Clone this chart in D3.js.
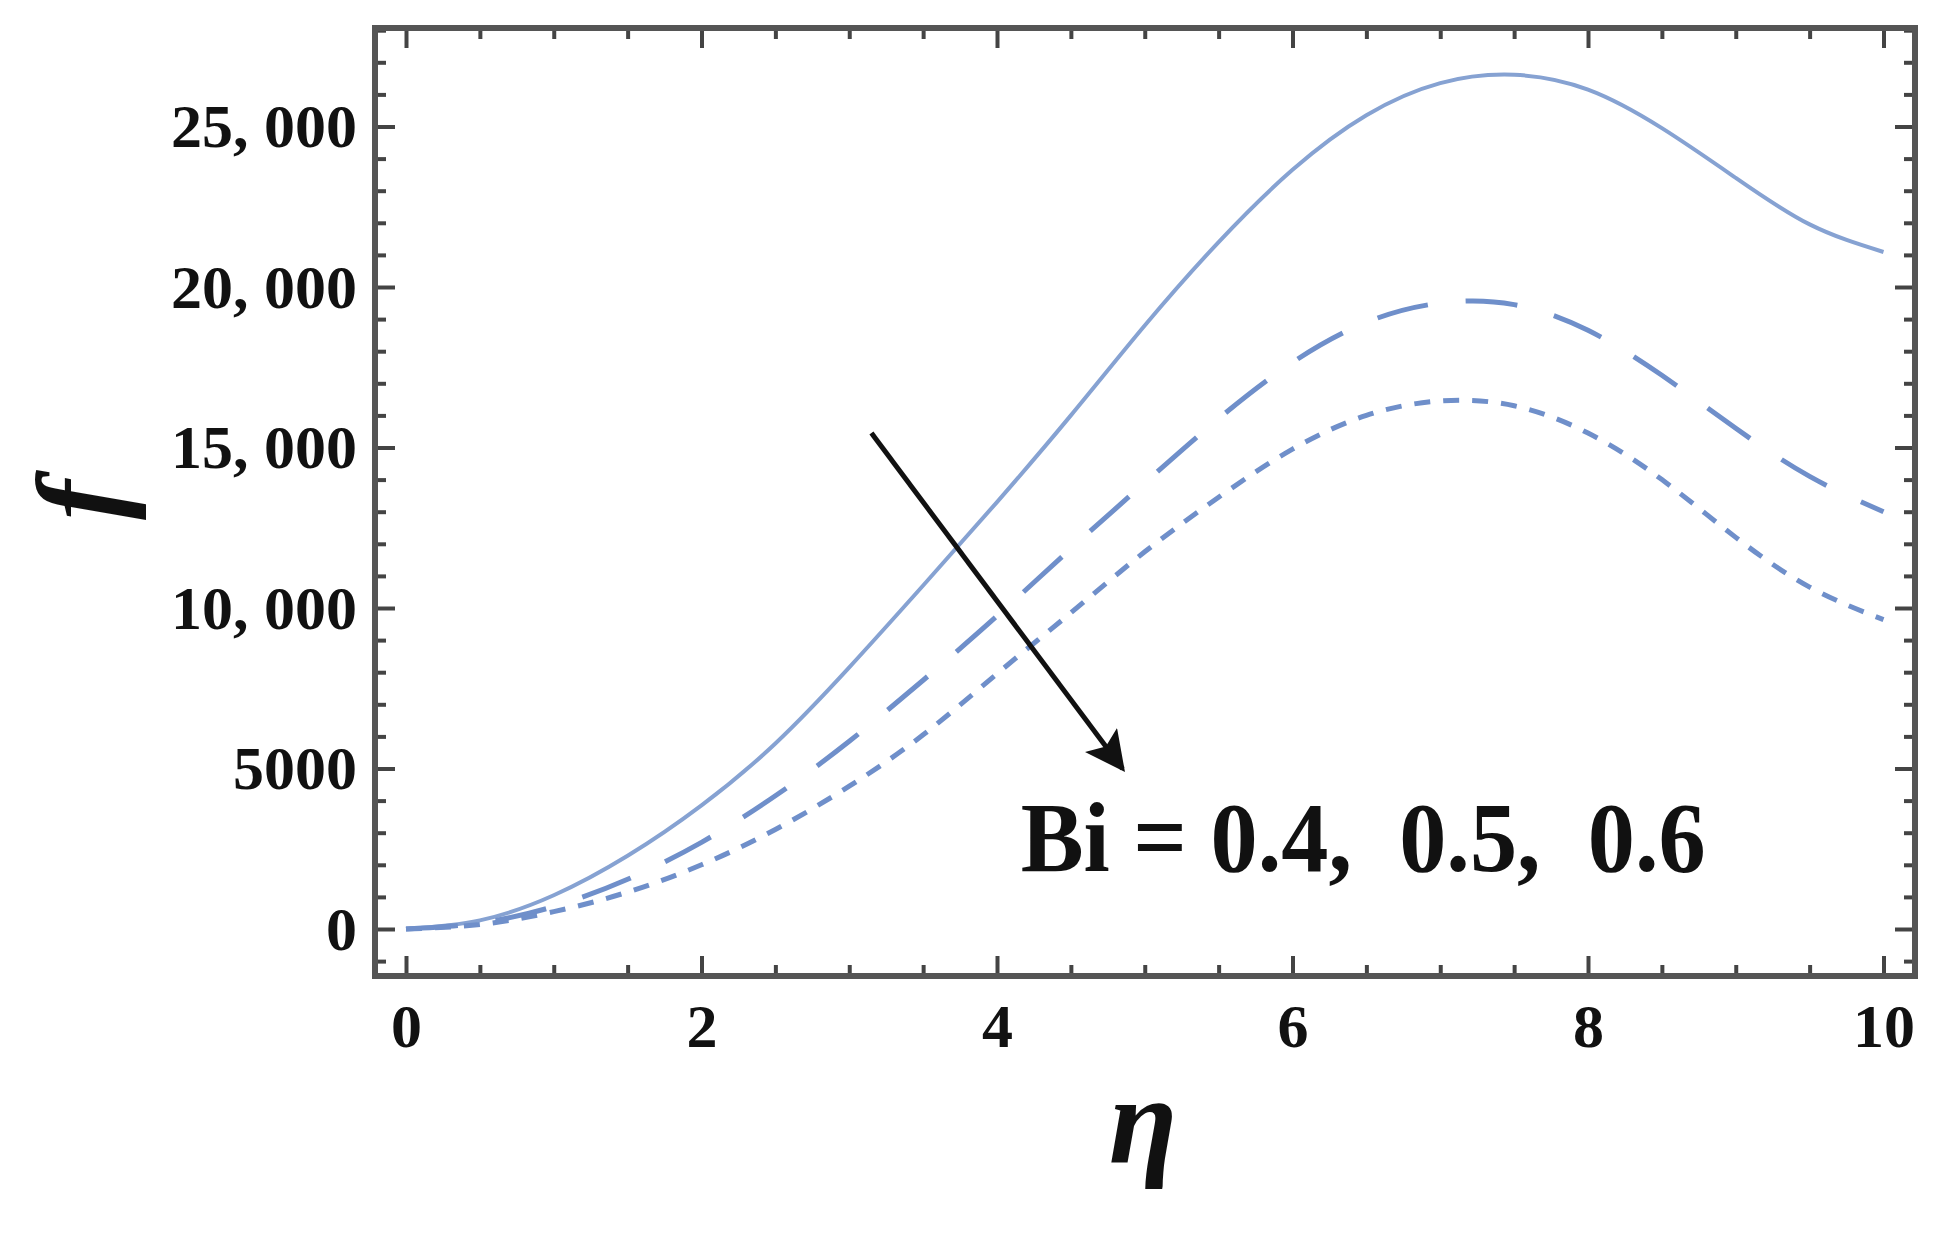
<!DOCTYPE html>
<html>
<head>
<meta charset="utf-8">
<script src="https://cdn.jsdelivr.net/npm/d3@7"></script>
<style>
  body { margin: 0; background: #fff; }
  svg { display: block; }
  text { font-family: "Liberation Serif", "DejaVu Serif", serif; }
</style>
</head>
<body>
<svg id="chart" width="1947" height="1235"></svg>
<script>
// eta sample points shared by all three curves
var eta = [0, 0.5, 1, 1.5, 2, 2.5, 3, 3.5, 4, 4.5, 5, 5.5, 6, 6.5, 7, 7.5, 8, 8.5, 9, 9.5, 10];

// f values, one array per Bi
var fBi04 = [0, 270, 1050, 2280, 3850, 5780, 8150, 10700, 13300, 16000, 18800, 21400, 23650, 25350, 26350, 26610, 26150, 24950, 23400, 21950, 21090];
var fBi05 = [0, 190, 700, 1550, 2700, 4150, 5850, 7750, 9750, 11850, 13900, 15900, 17650, 18900, 19500, 19450, 18650, 17250, 15600, 14100, 13000];
var fBi06 = [0, 140, 540, 1150, 2000, 3100, 4450, 6050, 7950, 9850, 11750, 13450, 14950, 16000, 16450, 16300, 15450, 14000, 12200, 10650, 9640];

var xMajor = [0, 2, 4, 6, 8, 10];
var yMajor = [0, 5000, 10000, 15000, 20000, 25000];
var yTickLabels = ["0", "5000", "10, 000", "15, 000", "20, 000", "25, 000"];
var annotation = "Bi = 0.4,  0.5,  0.6";

var svg = d3.select("#chart");

// plot frame in pixels
var frame = { left: 375, right: 1915, top: 28, bottom: 976 };

var x = d3.scaleLinear().domain([0, 10]).range([406, 1883.5]);
var y = d3.scaleLinear().domain([0, 25000]).range([929, 126.5]);

var xMinor = d3.range(0, 10.01, 0.5).filter(function (v) { return xMajor.indexOf(v) < 0; });
var yMinor = d3.range(-1000, 28001, 1000).filter(function (v) { return yMajor.indexOf(v) < 0; });

var tickColor = "#444";
var majorLen = 20, minorLen = 11;

// Draw inward ticks on one side of the frame
var drawAxis = function (axisFn, scale, values, len, translate, withLabels) {
  var g = svg.append("g")
    .attr("transform", translate)
    .call(axisFn(scale).tickValues(values).tickSize(-len).tickSizeOuter(0)
      .tickFormat(withLabels ? null : ""));
  g.select(".domain").remove();
  g.selectAll(".tick line").attr("stroke", tickColor).attr("stroke-width", 4);
  return g;
};

// bottom / top
var xb = drawAxis(d3.axisBottom, x, xMajor, majorLen, "translate(0," + frame.bottom + ")", true);
drawAxis(d3.axisBottom, x, xMinor, minorLen, "translate(0," + frame.bottom + ")", false);
drawAxis(d3.axisTop, x, xMajor, -majorLen, "translate(0," + frame.top + ")", false)
  .selectAll(".tick line").attr("y2", majorLen);
drawAxis(d3.axisTop, x, xMinor, -minorLen, "translate(0," + frame.top + ")", false)
  .selectAll(".tick line").attr("y2", minorLen);

// left / right
var yl = drawAxis(d3.axisLeft, y, yMajor, majorLen, "translate(" + frame.left + ",0)", true);
drawAxis(d3.axisLeft, y, yMinor, minorLen, "translate(" + frame.left + ",0)", false);
drawAxis(d3.axisRight, y, yMajor, -majorLen, "translate(" + frame.right + ",0)", false)
  .selectAll(".tick line").attr("x2", -majorLen);
drawAxis(d3.axisRight, y, yMinor, -minorLen, "translate(" + frame.right + ",0)", false)
  .selectAll(".tick line").attr("x2", -minorLen);

xb.selectAll(".tick text")
  .text(function (d) { return d; })
  .attr("y", 71)
  .attr("dy", 0)
  .attr("fill", "#111")
  .style("font-size", "62px")
  .style("font-weight", "bold");

yl.selectAll(".tick text")
  .text(function (d, i) { return yTickLabels[i]; })
  .attr("x", -18)
  .attr("dy", "0.33em")
  .attr("fill", "#111")
  .style("font-size", "62px")
  .style("font-weight", "bold");

// frame box
svg.append("rect")
  .attr("x", frame.left).attr("y", frame.top)
  .attr("width", frame.right - frame.left).attr("height", frame.bottom - frame.top)
  .attr("fill", "none").attr("stroke", "#555").attr("stroke-width", 6);

// curves
var line = d3.line()
  .x(function (d) { return x(d[0]); })
  .y(function (d) { return y(d[1]); })
  .curve(d3.curveNatural);

var series = [
  { values: fBi04, color: "#86a2d2", width: 4, dash: null },
  { values: fBi05, color: "#6f8fca", width: 5, dash: "52,38" },
  { values: fBi06, color: "#6f8fca", width: 5, dash: "16,13" }
];

svg.append("g").selectAll("path")
  .data(series)
  .enter().append("path")
  .attr("d", function (s) { return line(eta.map(function (e, i) { return [e, s.values[i]]; })); })
  .attr("fill", "none")
  .attr("stroke", function (s) { return s.color; })
  .attr("stroke-width", function (s) { return s.width; })
  .attr("stroke-dasharray", function (s) { return s.dash; });

// arrow annotation
svg.append("defs").append("marker")
  .attr("id", "head")
  .attr("viewBox", "0 0 10 10")
  .attr("refX", 9).attr("refY", 5)
  .attr("markerWidth", 13).attr("markerHeight", 8)
  .attr("markerUnits", "strokeWidth")
  .attr("orient", "auto")
  .append("path")
  .attr("d", "M0,0 L10,5 L0,10 L2,5 Z")
  .attr("fill", "#111");

svg.append("line")
  .attr("x1", x(3.15)).attr("y1", y(15450))
  .attr("x2", x(4.85)).attr("y2", y(4990))
  .attr("stroke", "#111").attr("stroke-width", 5)
  .attr("marker-end", "url(#head)");

svg.append("text")
  .attr("x", x(4.16)).attr("y", y(1800))
  .attr("textLength", 685).attr("lengthAdjust", "spacingAndGlyphs")
  .attr("fill", "#111")
  .style("font-size", "100px")
  .style("font-weight", "bold")
  .style("white-space", "pre")
  .text(annotation);

// axis labels
svg.append("text")
  .attr("x", 1143).attr("y", 1162)
  .attr("text-anchor", "middle")
  .attr("fill", "#111")
  .style("font-size", "125px")
  .style("font-style", "italic")
  .style("font-weight", "bold")
  .text("η");

svg.append("text")
  .attr("transform", "translate(120,500) rotate(-90)")
  .attr("text-anchor", "middle")
  .attr("fill", "#111")
  .style("font-size", "120px")
  .style("font-style", "italic")
  .style("font-weight", "bold")
  .text("f");
</script>
</body>
</html>
